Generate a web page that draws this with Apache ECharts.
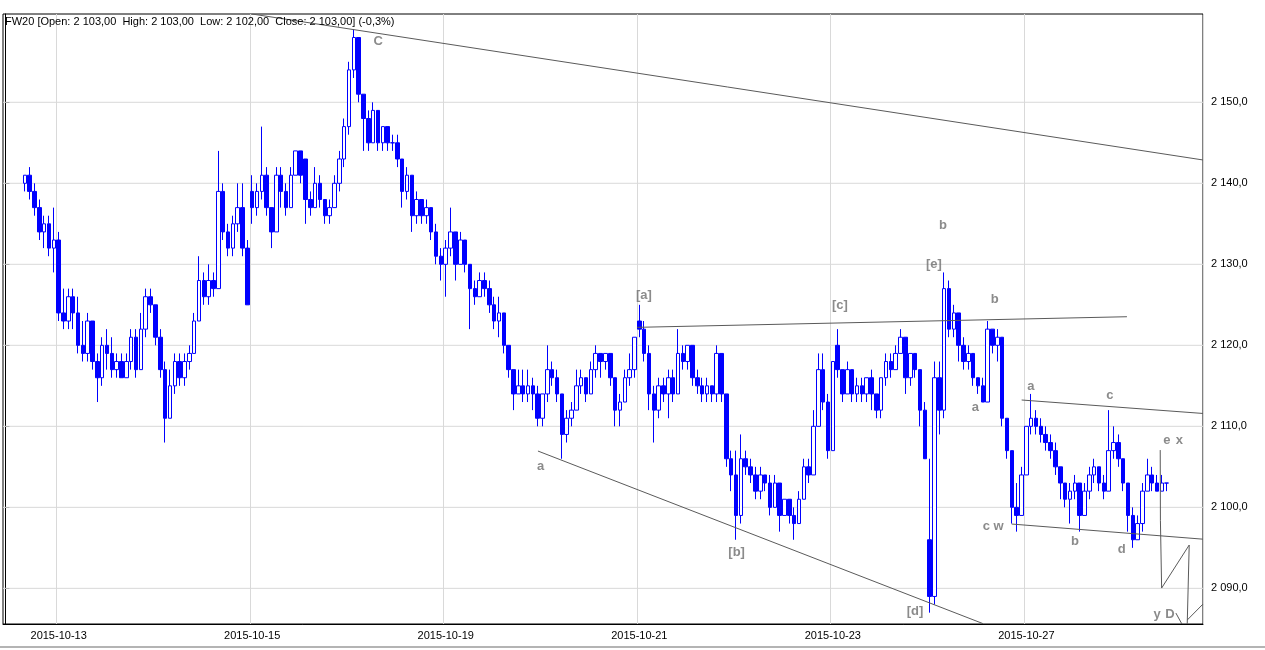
<!DOCTYPE html>
<html><head><meta charset="utf-8">
<script src="https://cdn.jsdelivr.net/npm/echarts@6/dist/echarts.min.js"></script>
<style>html,body{margin:0;padding:0;background:#fff}#c{width:1265px;height:650px}</style>
</head><body><div id="c"></div>
<script>
const titleText = 'FW20 [Open: 2 103,00  High: 2 103,00  Low: 2 102,00  Close: 2 103,00] (-0,3%)';
const dayNames = ['2015-10-12','2015-10-13','2015-10-14','2015-10-15','2015-10-16','2015-10-19','2015-10-20','2015-10-21','2015-10-22','2015-10-23','2015-10-26','2015-10-27','2015-10-28'];
const tickDays = ['2015-10-13','2015-10-15','2015-10-19','2015-10-21','2015-10-23','2015-10-27'];
const yTicks = [2090,2100,2110,2120,2130,2140,2150];
const yMin = 2085.6, yMax = 2160.9;
const leadBlank = 4, tailBlank = 7;

// candles: [open, close, low, high]
const d1012 = [[2140,2141,2139,2141],[2141,2139,2138,2142],[2139,2137,2136,2140],[2137,2134,2133,2138],[2134,2135,2132,2136],[2135,2132,2131,2136],[2132,2133,2129,2137]];
const d1013 = [[2133,2124,2123,2134],[2124,2123,2122,2127],[2123,2126,2122,2127],[2126,2124,2122,2127],[2124,2120,2119,2126],[2120,2119,2118,2123],[2119,2123,2118,2124],[2123,2118,2117,2123],[2118,2116,2113,2119],[2116,2120,2115,2121],[2120,2119,2117,2122],[2119,2117,2116,2121],[2117,2118,2116,2119],[2118,2116,2116,2119],[2116,2118,2116,2119],[2118,2121,2117,2122],[2121,2117,2116,2122],[2117,2122,2117,2124],[2122,2126,2121,2127],[2126,2125,2124,2127]];
const d1014 = [[2125,2121,2120,2125],[2121,2117,2116,2122],[2117,2111,2108,2118],[2111,2115,2111,2117],[2115,2118,2114,2119],[2118,2116,2115,2119],[2116,2118,2115,2119],[2118,2119,2117,2120],[2119,2123,2119,2124],[2123,2128,2123,2131],[2128,2126,2125,2129],[2126,2128,2125,2130],[2128,2127,2126,2129],[2127,2139,2127,2144],[2139,2134,2133,2140],[2134,2132,2131,2135],[2132,2135,2131,2136],[2135,2137,2134,2140],[2137,2132,2131,2140],[2132,2125,2125,2133]];
const d1015 = [[2139,2137,2135,2141],[2137,2139,2136,2140],[2139,2141,2138,2147],[2141,2137,2136,2142],[2137,2134,2132,2137],[2134,2141,2134,2142],[2141,2139,2137,2142],[2139,2137,2136,2140],[2137,2141,2137,2142],[2141,2144,2141,2144],[2144,2141,2140,2144],[2143,2138,2135,2143],[2138,2137,2136,2139],[2137,2140,2137,2142],[2140,2138,2137,2141],[2138,2136,2135,2138],[2136,2137,2135,2138],[2137,2140,2137,2141],[2140,2143,2139,2144],[2143,2147,2142,2148]];
const d1016 = [[2147,2154,2146,2155],[2154,2158,2153,2159],[2158,2151,2150,2158],[2151,2148,2144,2151],[2148,2145,2144,2149],[2145,2149,2145,2150],[2149,2145,2144,2149],[2145,2147,2144,2147],[2147,2145,2144,2147],[2145,2145,2144,2146],[2145,2143,2142,2146],[2143,2139,2137,2143],[2139,2141,2138,2142],[2141,2136,2134,2141],[2136,2138,2135,2139],[2138,2136,2135,2138],[2136,2137,2135,2138],[2137,2134,2133,2137],[2134,2131,2130,2135],[2131,2130,2128,2132]];
const d1019 = [[2130,2132,2126,2133],[2132,2134,2131,2137],[2134,2130,2128,2134],[2130,2133,2130,2134],[2133,2130,2129,2133],[2130,2127,2122,2130],[2127,2126,2125,2128],[2126,2128,2126,2129],[2128,2127,2126,2129],[2127,2125,2124,2128],[2125,2123,2122,2126],[2123,2124,2121,2126],[2124,2120,2119,2124],[2120,2117,2116,2120],[2117,2114,2112,2117],[2114,2115,2114,2117],[2115,2114,2113,2117],[2114,2115,2113,2117],[2115,2114,2112,2116],[2114,2111,2110,2115]];
const d1020 = [[2111,2114,2110,2114],[2114,2117,2113,2120],[2117,2116,2115,2118],[2116,2114,2113,2117],[2114,2109,2106,2114],[2109,2111,2108,2112],[2111,2112,2110,2113],[2112,2115,2112,2117],[2115,2116,2114,2117],[2116,2114,2113,2116],[2114,2117,2114,2118],[2117,2119,2116,2120],[2119,2118,2116,2119],[2118,2119,2117,2119],[2119,2116,2115,2119],[2116,2112,2110,2116],[2112,2113,2110,2114],[2113,2116,2113,2117],[2116,2117,2115,2119],[2117,2121,2116,2121]];
const d1021 = [[2123,2122,2121,2125],[2122,2119,2118,2123],[2119,2114,2112,2120],[2114,2112,2108,2115],[2112,2115,2111,2116],[2115,2114,2113,2116],[2114,2116,2111,2117],[2116,2114,2113,2117],[2114,2119,2114,2122],[2119,2118,2117,2120],[2118,2120,2117,2120],[2120,2116,2115,2120],[2116,2115,2114,2117],[2115,2114,2113,2116],[2114,2115,2113,2116],[2115,2114,2113,2115],[2114,2119,2113,2120],[2119,2114,2113,2119],[2114,2106,2105,2114],[2106,2104,2102,2107]];
const d1022 = [[2104,2099,2096,2107],[2099,2106,2098,2109],[2106,2105,2104,2107],[2105,2104,2103,2106],[2104,2102,2101,2105],[2102,2104,2101,2105],[2104,2103,2102,2104],[2103,2100,2099,2104],[2100,2103,2100,2104],[2103,2099,2097,2103],[2099,2101,2099,2101],[2101,2099,2098,2101],[2099,2098,2096,2100],[2098,2101,2098,2102],[2101,2105,2101,2106],[2105,2104,2103,2106],[2104,2110,2104,2112],[2110,2117,2110,2119],[2117,2113,2112,2119],[2113,2107,2106,2114]];
const d1023 = [[2107,2118,2107,2118],[2120,2117,2116,2122],[2117,2114,2113,2117],[2114,2117,2114,2118],[2117,2114,2113,2117],[2114,2115,2113,2116],[2115,2114,2113,2116],[2114,2116,2113,2116],[2116,2114,2112,2117],[2114,2112,2111,2114],[2112,2116,2111,2116],[2116,2118,2115,2119],[2118,2117,2116,2119],[2117,2119,2117,2120],[2119,2121,2119,2122],[2121,2116,2114,2121],[2116,2119,2115,2119],[2119,2117,2116,2119],[2117,2112,2110,2117],[2112,2106,2106,2113]];
const d1026 = [[2096,2089,2087,2106],[2089,2116,2088,2118],[2116,2112,2109,2118],[2112,2127,2111,2129],[2127,2122,2121,2128],[2122,2124,2121,2125],[2124,2120,2118,2124],[2120,2118,2117,2121],[2118,2119,2117,2120],[2119,2116,2115,2119],[2116,2115,2114,2116],[2115,2113,2113,2116],[2113,2122,2113,2123],[2122,2120,2119,2122],[2120,2121,2118,2122],[2121,2111,2110,2121],[2111,2107,2106,2111],[2107,2100,2098,2107],[2100,2099,2097,2103],[2099,2104,2099,2105]];
const d1027 = [[2104,2110,2104,2110],[2110,2111,2109,2114],[2111,2110,2109,2112],[2110,2109,2108,2111],[2109,2108,2107,2110],[2108,2107,2106,2109],[2107,2105,2104,2108],[2105,2103,2101,2105],[2103,2101,2100,2103],[2101,2102,2098,2103],[2102,2103,2101,2104],[2103,2099,2097,2103],[2099,2102,2099,2103],[2102,2104,2101,2105],[2104,2105,2103,2106],[2105,2103,2102,2105],[2103,2102,2101,2104],[2102,2107,2102,2112],[2107,2108,2106,2110],[2108,2106,2105,2109]];
const d1028 = [[2106,2103,2102,2106],[2103,2099,2097,2103],[2099,2096,2095,2100],[2096,2098,2096,2099],[2098,2102,2097,2103],[2102,2104,2102,2106],[2104,2103,2102,2105],[2103,2102,2102,2104],[2102,2103,2102,2104],[2103,2103,2102,2103]];
const dayBars = [d1012,d1013,d1014,d1015,d1016,d1019,d1020,d1021,d1022,d1023,d1026,d1027,d1028];

// trend lines in (bar index, price)
const trendLines = [
  [[50.96,2160.9],[247.5,2142.88]],
  [[110.06,2106.95],[202.02,2085.65]],
  [[130.52,2122.22],[231.78,2123.53]],
  [[210.02,2113.25],[247.5,2111.59]],
  [[207.95,2097.94],[247.5,2096.07]],
  [[238.66,2107.07],[238.7,2098.4],[238.95,2098.4],[238.95,2090.04],[244.65,2095.35],[244.24,2085.6]],
  [[244.24,2086.09],[247.5,2088.06]],
  [[241.9,2086.95],[243.14,2085.6]]
];
// wave labels: text, bar index, price
const waveLabels = [
  ['C',77.06,2157.48],['a',110.62,2105.01],['[a]',131.96,2126.21],['[b]',151.12,2094.44],
  ['[c]',172.47,2124.98],['[d]',187.97,2087.11],['[e]',191.89,2130.04],['b',193.75,2134.85],
  ['b',204.44,2125.72],['a',200.43,2112.35],['a',211.94,2114.89],['c',228.26,2113.86],
  ['c w',204.15,2097.69],['b',221.03,2095.83],['d',230.68,2094.85],['e',240.04,2108.31],
  ['x',242.59,2108.31],['y',238.04,2086.83],['D',240.66,2086.83]
];

const categories = [], candles = [];
for (let k = 0; k < leadBlank; k++) { categories.push('pre|' + k); candles.push(['-','-','-','-']); }
dayNames.forEach((d, j) => dayBars[j].forEach((b, k) => { categories.push(d + '|' + k); candles.push(b); }));
for (let k = 0; k < tailBlank; k++) { categories.push('post|' + k); candles.push(['-','-','-','-']); }
const N = categories.length;

const isTick = (idx, val) => { const p = String(val).split('|'); return p[1] === '0' && tickDays.indexOf(p[0]) >= 0; };
const fmtY = v => { const s = Number(v).toFixed(1).split('.'); return s[0].replace(/\B(?=(\d{3})+(?!\d))/g, ' ') + ',' + s[1]; };
const FONT = 'Liberation Sans';

const series = [];
yTicks.forEach(v => series.push({
  type: 'line', xAxisIndex: 1, yAxisIndex: 0, data: [[-0.5, v], [N - 0.5, v]], symbol: 'none', silent: true,
  lineStyle: { color: '#d9d9d9', width: 1 }, z: 1, animation: false
}));
series.push({
  type: 'candlestick', xAxisIndex: 0, yAxisIndex: 0, data: candles, barWidth: 4, z: 2, animation: false,
  itemStyle: { color: '#ffffff', color0: '#0000ff', borderColor: '#0000ff', borderColor0: '#0000ff', borderColorDoji: '#0000ff', borderWidth: 1 }
});
trendLines.forEach(pts => series.push({
  type: 'line', xAxisIndex: 1, yAxisIndex: 0, data: pts, symbol: 'none', silent: true,
  lineStyle: { color: '#5a5a5a', width: 1 }, z: 3, animation: false
}));
series.push({
  type: 'scatter', xAxisIndex: 1, yAxisIndex: 0, symbolSize: 1, silent: true, z: 4, animation: false,
  itemStyle: { color: 'transparent' },
  data: waveLabels.map(l => ({ name: l[0], value: [l[1], l[2]] })),
  label: { show: true, position: 'inside', formatter: '{b}', color: '#6e6e6e', fontWeight: 'bold', fontSize: 13, fontFamily: FONT }
});

const chart = echarts.init(document.getElementById('c'), null, { renderer: 'canvas' });
chart.setOption({
  animation: false,
  backgroundColor: '#ffffff',
  title: { text: titleText, left: 5, top: 16, padding: 0, textStyle: { fontSize: 11, fontWeight: 'normal', color: '#000', fontFamily: FONT } },
  grid: { left: 3, right: 62, top: 14, bottom: 26, show: true, borderColor: '#000', borderWidth: 1, containLabel: false, outerBoundsMode: 'none' },
  xAxis: [
    { type: 'category', data: categories, boundaryGap: true,
      axisLine: { lineStyle: { color: '#000' } },
      axisTick: { interval: isTick, length: 5, lineStyle: { color: '#000' } },
      axisLabel: { interval: isTick, formatter: v => v.split('|')[0], margin: 6, fontSize: 11, color: '#000', fontFamily: FONT },
      splitLine: { show: true, interval: isTick, lineStyle: { color: '#d9d9d9' } } },
    { type: 'value', min: -0.5, max: N - 0.5, show: false }
  ],
  yAxis: [{
    type: 'value', position: 'right', min: yMin, max: yMax, scale: true,
    axisLine: { show: true, lineStyle: { color: '#000' } },
    axisTick: { show: true, length: 4, customValues: yTicks, lineStyle: { color: '#000' } },
    axisLabel: { customValues: yTicks, margin: 8, color: '#000', fontSize: 11, fontFamily: FONT, formatter: fmtY },
    splitLine: { show: false }
  }],
  graphic: [{ type: 'rect', left: 0, top: 646, shape: { width: 1265, height: 2 }, style: { fill: '#b4b4b4' }, silent: true }],
  series: series
});
</script>
</body></html>
